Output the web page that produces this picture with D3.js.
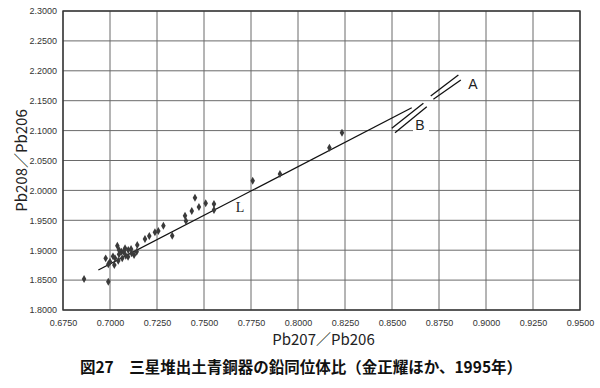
<!DOCTYPE html>
<html>
<head>
<meta charset="utf-8">
<script src="https://cdn.jsdelivr.net/npm/d3@7"></script>
<style>
  html, body { margin: 0; padding: 0; background: #fff; }
  svg { display: block; }
</style>
</head>
<body>
<script>
// tick values
var xTicks = [0.675, 0.700, 0.725, 0.750, 0.775, 0.800, 0.825, 0.850, 0.875, 0.900, 0.925, 0.950];
var yTicks = [1.80, 1.85, 1.90, 1.95, 2.00, 2.05, 2.10, 2.15, 2.20, 2.25, 2.30];

// Pb207/Pb206 values of the samples
var pb207 = [0.6862, 0.6991, 0.7039, 0.6977, 0.7000, 0.7027, 0.7048, 0.7062, 0.7080, 0.7097,
             0.7084, 0.7065, 0.7044, 0.7023, 0.6991, 0.7142, 0.7145, 0.7128, 0.7186, 0.7209,
             0.7239, 0.7257, 0.7284, 0.7331, 0.7096, 0.7115, 0.7016, 0.7074, 0.7048, 0.7112,
             0.7399, 0.7404, 0.7435, 0.7452, 0.7473, 0.7509, 0.7553, 0.7553,
             0.7759, 0.7904, 0.8167, 0.8234];
// Pb208/Pb206 values of the samples
var pb208 = [1.8518, 1.8473, 1.9075, 1.8864, 1.8808, 1.8864, 1.8931, 1.8975, 1.9032, 1.9003,
             1.8908, 1.8864, 1.8824, 1.8752, 1.8764, 1.8975, 1.9087, 1.8920, 1.9187, 1.9237,
             1.9299, 1.9321, 1.9410, 1.9242, 1.8891, 1.8948, 1.8897, 1.8970, 1.9003, 1.9020,
             1.9577, 1.9488, 1.9655, 1.9878, 1.9722, 1.9784, 1.9772, 1.9672,
             2.0162, 2.0274, 2.0714, 2.0964];

// reference lines (data units): L, and the double lines A and B
var lineL = [[0.6938, 1.8669], [0.8605, 2.1382]];
var lineA = [[[0.8706, 2.1578], [0.8853, 2.1929]], [[0.8720, 2.1523], [0.8866, 2.1846]]];
var lineB = [[[0.8499, 2.1038], [0.8667, 2.1456]], [[0.8516, 2.0965], [0.8685, 2.1399]]];
var labels = [{t: 'L', x: 0.7692, y: 1.9706}, {t: 'A', x: 0.8931, y: 2.1779}, {t: 'B', x: 0.8649, y: 2.1093}];

var W = 600, H = 388;
var margin = {left: 63, right: 20, top: 11, bottom: 78};

var svg = d3.select('body').append('svg')
    .attr('width', W)
    .attr('height', H);

var x = d3.scaleLinear().domain([0.675, 0.95]).range([margin.left, W - margin.right]);
var y = d3.scaleLinear().domain([1.8, 2.3]).range([H - margin.bottom, margin.top]);

var grid = svg.append('g');

// grid lines
grid.selectAll('.vx').data(xTicks).enter().append('line')
    .attr('x1', function(d) { return x(d); })
    .attr('x2', function(d) { return x(d); })
    .attr('y1', y(1.8)).attr('y2', y(2.3))
    .style('stroke', '#6a6a6a').style('stroke-width', 1);
grid.selectAll('.hy').data(yTicks).enter().append('line')
    .attr('y1', function(d) { return y(d); })
    .attr('y2', function(d) { return y(d); })
    .attr('x1', x(0.675)).attr('x2', x(0.95))
    .style('stroke', '#6a6a6a').style('stroke-width', 1);

// frame
svg.append('rect')
    .attr('x', x(0.675)).attr('y', y(2.3))
    .attr('width', x(0.95) - x(0.675)).attr('height', y(1.8) - y(2.3))
    .style('fill', 'none').style('stroke', '#333').style('stroke-width', 1.4);

// axes (labels only)
var xAxis = svg.append('g')
    .attr('transform', 'translate(0,' + y(1.8) + ')')
    .call(d3.axisBottom(x).tickValues(xTicks).tickFormat(d3.format('.4f')).tickSize(0).tickPadding(10));
var yAxis = svg.append('g')
    .attr('transform', 'translate(' + x(0.675) + ',0)')
    .call(d3.axisLeft(y).tickValues(yTicks).tickFormat(d3.format('.4f')).tickSize(0).tickPadding(6));
[xAxis, yAxis].forEach(function(a) {
    a.select('.domain').remove();
    a.selectAll('text')
        .style('font-family', '"Liberation Sans", Arial, sans-serif')
        .style('font-size', '9px')
        .style('fill', '#333');
});

// reference lines
var ln = d3.line().x(function(d) { return x(d[0]); }).y(function(d) { return y(d[1]); });
svg.append('path').attr('d', ln(lineL))
    .style('fill', 'none').style('stroke', '#111').style('stroke-width', 1.3);

// white breaks of the grid near B and A
svg.selectAll('.gap').data(labels.slice(1)).enter().append('rect')
    .attr('x', function(d) { return x(d.x) - 7; })
    .attr('y', function(d) { return y(d.y) - 9; })
    .attr('width', 16).attr('height', 18)
    .style('fill', '#fff');

lineA.concat(lineB).forEach(function(seg) {
    svg.append('path').attr('d', ln(seg))
        .style('fill', 'none').style('stroke', '#111').style('stroke-width', 1.3);
});

svg.selectAll('.lbl').data(labels).enter().append('text')
    .attr('x', function(d) { return x(d.x); })
    .attr('y', function(d) { return y(d.y); })
    .attr('text-anchor', 'middle')
    .attr('dominant-baseline', 'central')
    .style('font-family', function(d) { return d.t === 'L' ? '"Liberation Serif", serif' : '"Liberation Sans", sans-serif'; })
    .style('font-size', '14px')
    .style('fill', '#222')
    .text(function(d) { return d.t; });

// sample points
var pts = pb207.map(function(v, i) { return [v, pb208[i]]; });
svg.selectAll('.pt').data(pts).enter().append('path')
    .attr('d', d3.symbol().type(d3.symbolDiamond).size(18))
    .attr('transform', function(d) { return 'translate(' + x(d[0]) + ',' + y(d[1]) + ')'; })
    .style('fill', '#3a3a3a');

// axis titles
svg.append('text')
    .attr('x', (x(0.675) + x(0.95)) / 2 + 2)
    .attr('y', y(1.8) + 35)
    .attr('text-anchor', 'middle')
    .style('font-family', '"Noto Sans CJK JP", "Noto Sans", sans-serif')
    .style('font-size', '15px')
    .style('fill', '#222')
    .text('Pb207／Pb206');

svg.append('text')
    .attr('transform', 'translate(27,' + ((y(1.8) + y(2.3)) / 2) + ') rotate(-90)')
    .attr('text-anchor', 'middle')
    .style('font-family', '"Noto Sans CJK JP", "Noto Sans", sans-serif')
    .style('font-size', '15px')
    .style('fill', '#222')
    .text('Pb208／Pb206');

// caption
svg.append('text')
    .attr('x', 301)
    .attr('y', 373)
    .attr('text-anchor', 'middle')
    .style('font-family', '"Noto Sans CJK JP", sans-serif')
    .style('font-weight', 'bold')
    .style('font-size', '15.5px')
    .style('fill', '#111')
    .text('図27　三星堆出土青銅器の鉛同位体比（金正耀ほか、1995年）');
</script>
</body>
</html>
